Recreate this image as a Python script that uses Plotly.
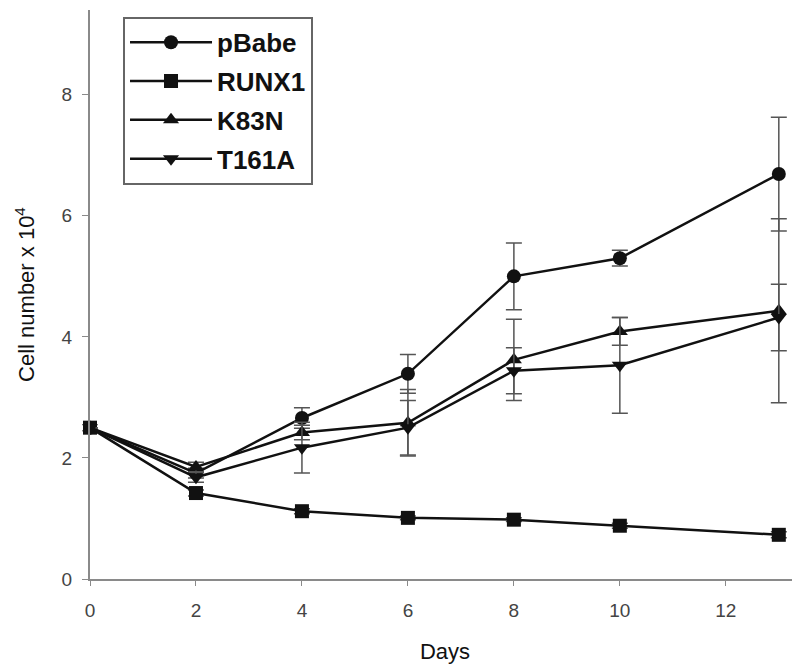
import plotly.graph_objects as go

days = [0, 2, 4, 6, 8, 10, 13]

pbabe = [2.5, 1.75, 2.66, 3.39, 5.0, 5.3, 6.69]
pbabe_err = [0.0, 0.08, 0.17, 0.32, 0.55, 0.13, 0.94]

runx1 = [2.5, 1.42, 1.12, 1.01, 0.98, 0.88, 0.73]
runx1_err = [0.0, 0.05, 0.04, 0.03, 0.03, 0.04, 0.05]

k83n = [2.5, 1.85, 2.42, 2.58, 3.62, 4.09, 4.43]
k83n_err = [0.0, 0.08, 0.12, 0.55, 0.67, 0.23, 1.52]

t161a = [2.5, 1.68, 2.17, 2.5, 3.44, 3.53, 4.32]
t161a_err = [0.0, 0.08, 0.42, 0.45, 0.38, 0.79, 0.55]

series = [
    ("pBabe", pbabe, pbabe_err, "circle"),
    ("RUNX1", runx1, runx1_err, "square"),
    ("K83N", k83n, k83n_err, "triangle-up"),
    ("T161A", t161a, t161a_err, "triangle-down"),
]

fig = go.Figure()
for i, (name, vals, errs, sym) in enumerate(series):
    fig.add_trace(go.Scatter(
        x=days, y=vals, name=name, mode="lines+markers",
        line=dict(color="#111111", width=2.5),
        marker=dict(symbol=sym, size=14, color="#111111"),
        error_y=dict(type="data", array=errs, visible=True,
                     color="#555555", thickness=1.5, width=8),
        cliponaxis=False,
        legendgroup=name,
    ))

axis_color = "#8a8a8a"
# page body has an 8px default margin, so the figure is sized 792x658
fig.update_layout(
    width=792, height=658,
    margin=dict(l=82, r=0, t=2, b=87),
    plot_bgcolor="white", paper_bgcolor="white",
    font=dict(family="Arial, Liberation Sans, sans-serif", color="#333333"),
    xaxis=dict(
        range=[0, 13.4], tickmode="array", tickvals=[0, 2, 4, 6, 8, 10, 12],
        showgrid=False, zeroline=False, showline=True, linecolor=axis_color,
        linewidth=2, ticks="outside", ticklen=5, tickcolor=axis_color,
        tickfont=dict(size=19, color="#444444"),
        ticklabelstandoff=8,
        automargin=False,
        title=dict(text="Days", font=dict(size=22, color="#111111"), standoff=24),
    ),
    yaxis=dict(
        range=[0, 9.4], tickmode="array", tickvals=[0, 2, 4, 6, 8],
        showgrid=False, zeroline=False, showline=True, linecolor=axis_color,
        linewidth=2, ticks="outside", ticklen=6, tickcolor=axis_color,
        tickfont=dict(size=19, color="#444444"),
        ticklabelstandoff=6,
        automargin=False,
        title=dict(text="Cell number x 10<sup>4</sup>", font=dict(size=22, color="#111111"), standoff=21),
    ),
    legend=dict(
        x=0.0465, y=0.988, xanchor="left", yanchor="top",
        bgcolor="white", bordercolor="#666666", borderwidth=2,
        font=dict(size=26, color="#111111", family="Arial, Liberation Sans, sans-serif", weight="bold"),
        traceorder="grouped", tracegroupgap=2,
        itemwidth=82,
    ),
)

fig.write_html("out.html")
